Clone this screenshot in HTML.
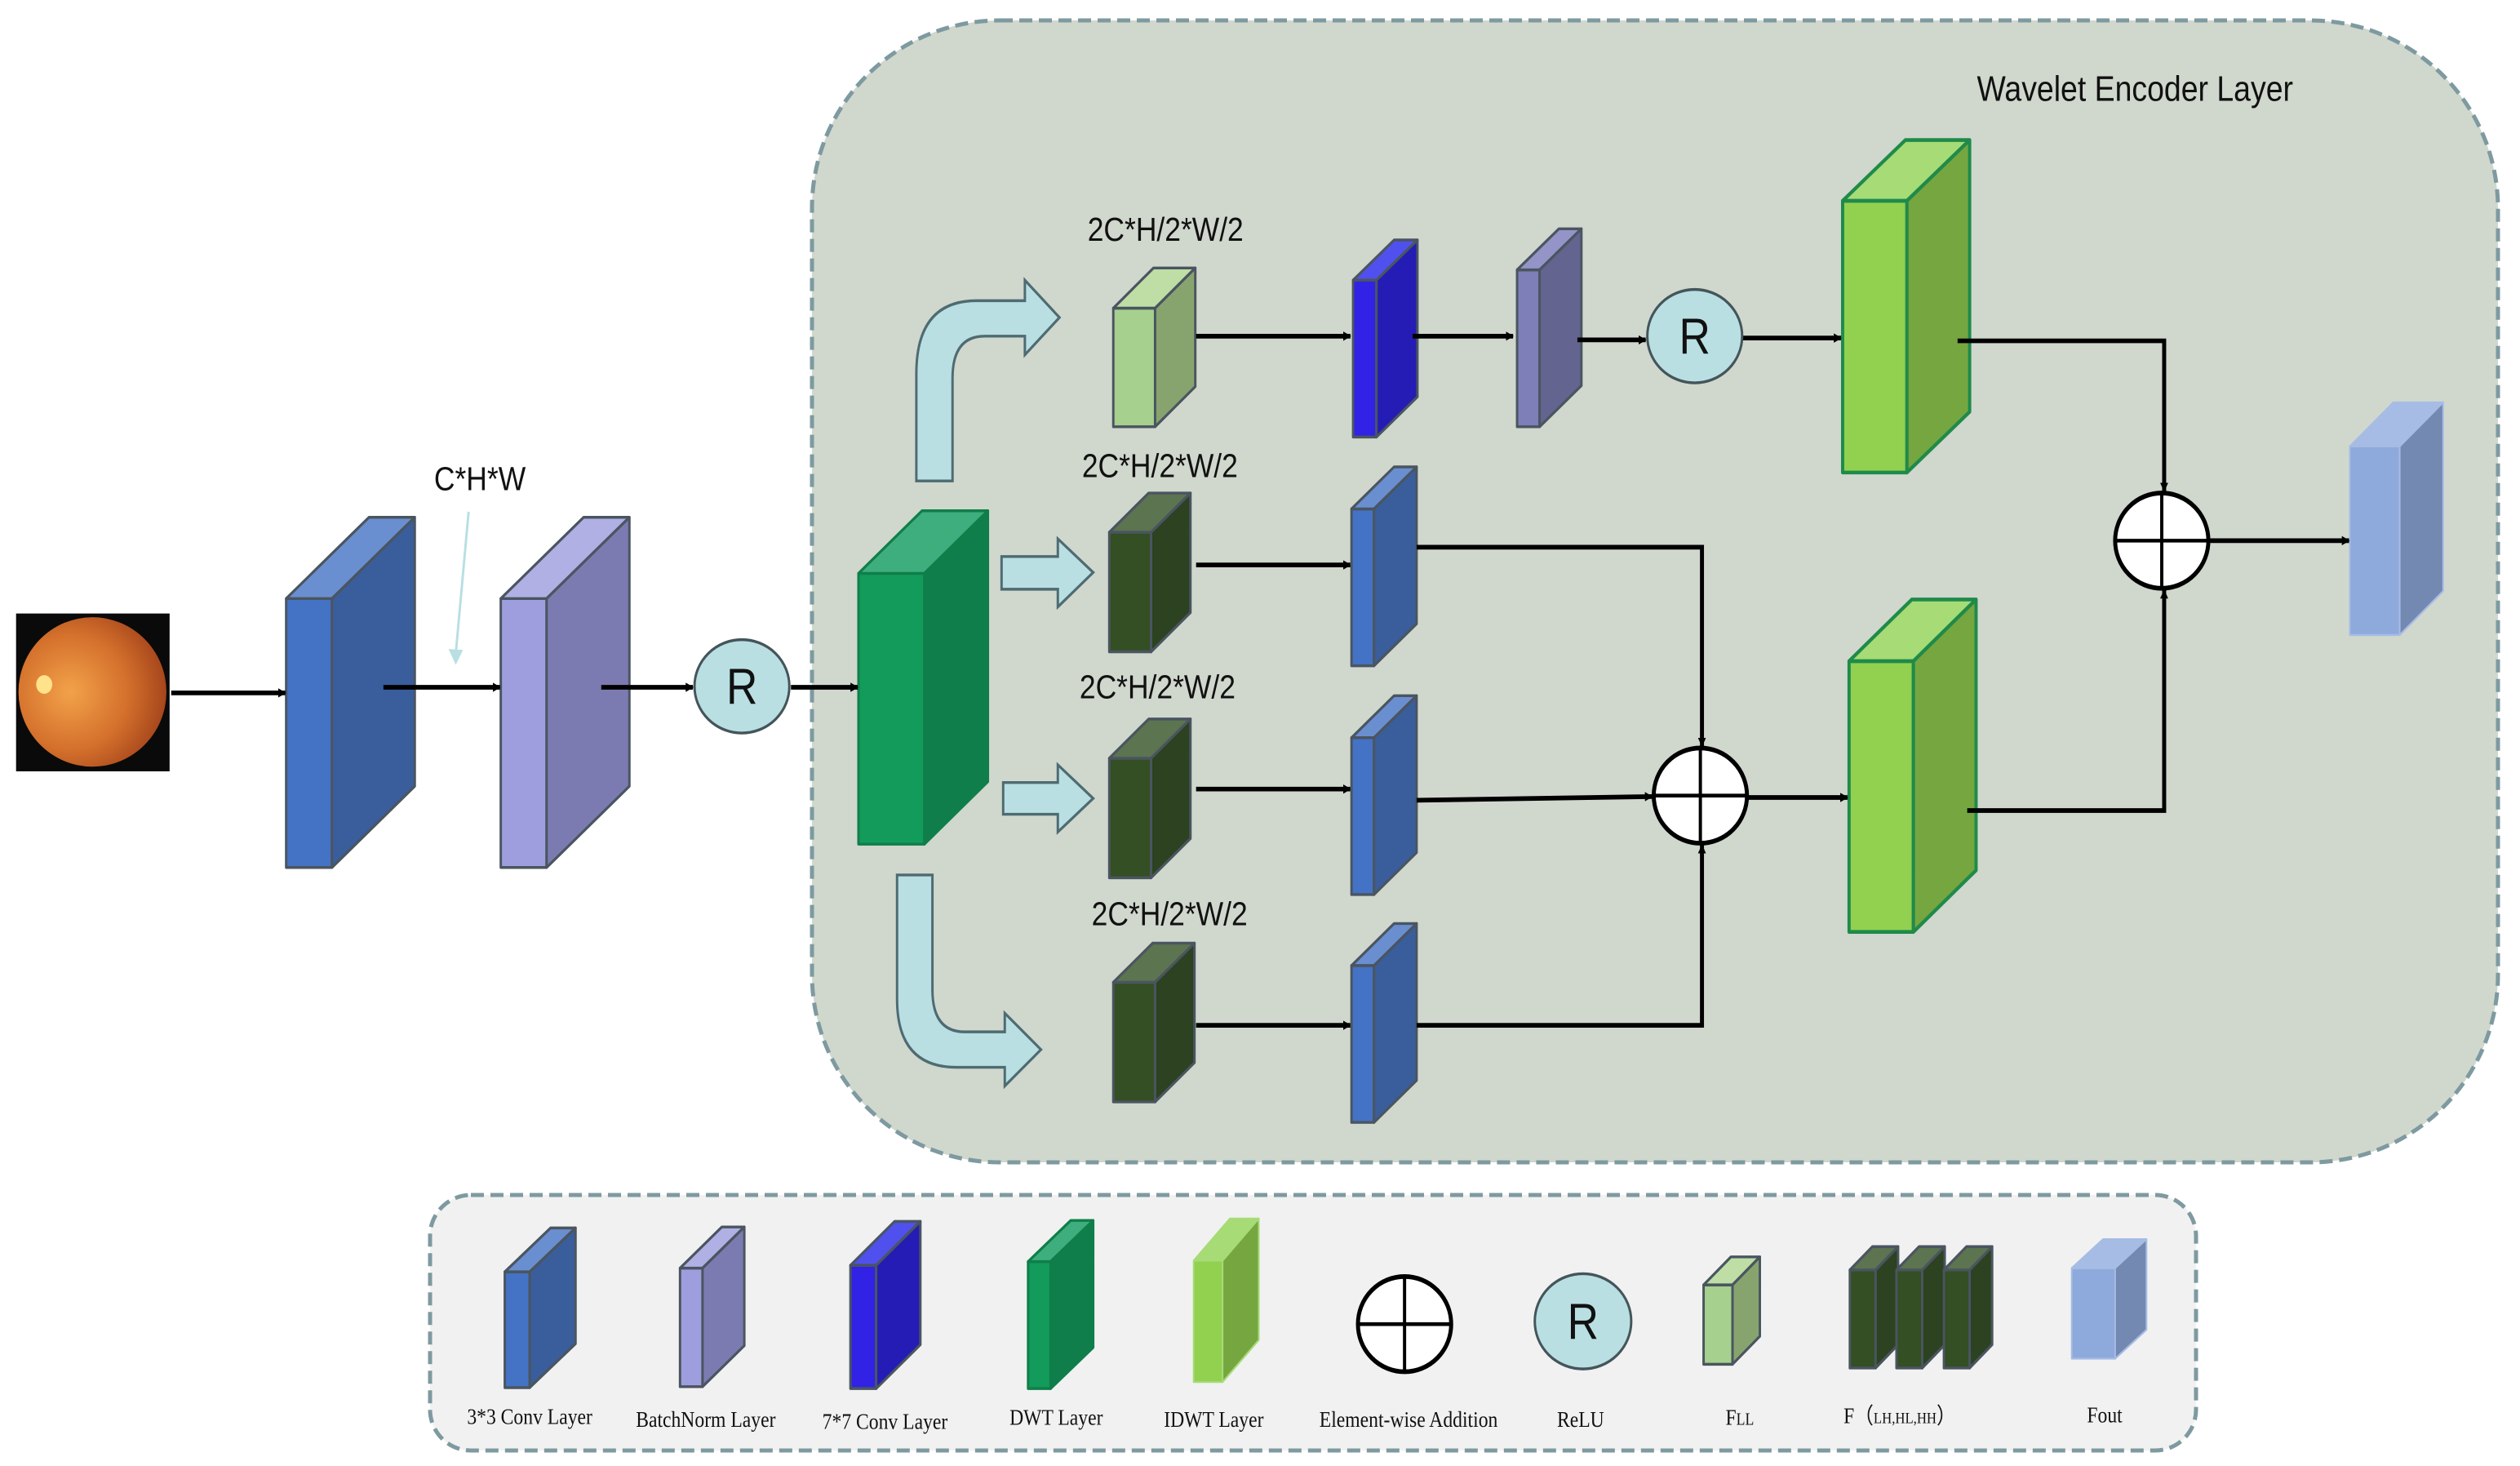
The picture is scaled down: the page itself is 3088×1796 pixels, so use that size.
<!DOCTYPE html>
<html><head><meta charset="utf-8">
<style>
html,body{margin:0;padding:0;background:#fff;}
svg{display:block;}
.sans{font-family:"Liberation Sans",sans-serif;}
.serif{font-family:"Liberation Serif",serif;}
</style></head>
<body>
<svg id="s" width="3088" height="1796" viewBox="0 0 3088 1796" xmlns="http://www.w3.org/2000/svg">
<defs>
<marker id="ah" markerWidth="10" markerHeight="10" refX="9" refY="5" orient="auto" markerUnits="userSpaceOnUse" viewBox="0 0 10 10">
<path d="M0,0 L10,5 L0,10 z" fill="#000"/>
</marker>
<radialGradient id="eye" cx="0.35" cy="0.5" r="0.65">
<stop offset="0" stop-color="#f2a24a"/><stop offset="0.6" stop-color="#d4702c"/><stop offset="1" stop-color="#a6461c"/>
</radialGradient>
</defs>

<!-- containers in true coords -->
<rect x="995" y="25" width="2066" height="1399" rx="230" ry="230" fill="#D0D7CD" stroke="#7E9AA0" stroke-width="5" stroke-dasharray="16,8"/>
<rect x="527" y="1464" width="2164" height="313" rx="50" ry="50" fill="#F1F1F1" stroke="#7E9AA0" stroke-width="5" stroke-dasharray="16,8"/>

<!-- LEFT GROUP -->
<g id="L" transform="matrix(0.985,0,0,1.144,0,0)">
<rect x="20" y="657" width="191" height="169" fill="#0a0a0a"/>
<ellipse cx="115" cy="741" rx="92" ry="80" fill="url(#eye)"/>
<circle cx="55" cy="733" r="10" fill="#ffe28a"/>
<g id="Lb"></g>
<g stroke="#000" stroke-width="5" fill="none">
<line x1="213" y1="742" x2="355" y2="742" marker-end="url(#ah)"/>
<line x1="477" y1="736" x2="622" y2="736" marker-end="url(#ah)"/>
<line x1="748" y1="736" x2="862" y2="736" marker-end="url(#ah)"/>
<line x1="984" y1="736" x2="1067" y2="736" marker-end="url(#ah)"/>
<line x1="1488" y1="360" x2="1680" y2="360" marker-end="url(#ah)"/>
<line x1="1488" y1="605" x2="1680" y2="605" marker-end="url(#ah)"/>
<line x1="1488" y1="845" x2="1680" y2="845" marker-end="url(#ah)"/>
<line x1="1488" y1="1098" x2="1680" y2="1098" marker-end="url(#ah)"/>
</g>
<text x="597" y="525" class="sans" font-size="36" text-anchor="middle" fill="#111">C*H*W</text>
<line x1="583" y1="548" x2="567" y2="700" stroke="#B9DFE3" stroke-width="3"/>
<path d="M558,695 L567,712 L576,696 z" fill="#B9DFE3"/>
<g fill="#B9DFE3" stroke="#4E6B72" stroke-width="3">
<path d="M1140,515 L1140,400 Q1140,322 1215,322 L1275,322 L1275,300 L1318,340 L1275,380 L1275,360 L1225,360 Q1185,360 1185,405 L1185,515 Z"/>
<path d="M1246,596 L1316,596 L1316,577 L1360,613 L1316,650 L1316,631 L1246,631 Z"/>
<path d="M1248,838 L1316,838 L1316,819 L1360,855 L1316,891 L1316,872 L1248,872 Z"/>
<path d="M1116,937 L1160,937 L1160,1060 Q1160,1105 1200,1105 L1250,1105 L1250,1085 L1295,1124 L1250,1163 L1250,1143 L1190,1143 Q1116,1143 1116,1070 Z"/>
</g>
<g class="sans" font-size="36" text-anchor="middle" fill="#111">
<text x="1450" y="258">2C*H/2*W/2</text>
<text x="1443" y="511">2C*H/2*W/2</text>
<text x="1440" y="748">2C*H/2*W/2</text>
<text x="1455" y="991">2C*H/2*W/2</text>
</g>
<ellipse cx="923" cy="735" rx="59" ry="50" stroke="#44555a" stroke-width="3" fill="#B9DFE3"/>
<text x="923" y="754" class="sans" font-size="54" text-anchor="middle" fill="#111">R</text>
<g class="serif" font-size="24" text-anchor="middle" fill="#111">
<text x="659" y="1525">3*3 Conv Layer</text>
<text x="878" y="1528">BatchNorm Layer</text>
<text x="1101" y="1530">7*7 Conv Layer</text>
<text x="1314" y="1526">DWT Layer</text>
<text x="1510" y="1528">IDWT Layer</text>
</g>
</g>

<!-- RIGHT GROUP -->
<g id="R" transform="matrix(0.985,0,0,1.144,23,0)">
<text x="2436" y="108" class="sans" font-size="38" fill="#111">Wavelet Encoder Layer</text>
<g id="Rb"></g>
<g stroke="#000" stroke-width="5" fill="none">
<line x1="1734" y1="360" x2="1859" y2="360" marker-end="url(#ah)"/>
<line x1="1939" y1="364" x2="2024" y2="364" marker-end="url(#ah)"/>
<line x1="2145" y1="362" x2="2267" y2="362" marker-end="url(#ah)"/>
<polyline points="2412,365 2669,365 2669,526" marker-end="url(#ah)"/>
<line x1="2725" y1="579" x2="2899" y2="579" marker-end="url(#ah)"/>
<polyline points="1739,586 2094,586 2094,799" marker-end="url(#ah)"/>
<line x1="1739" y1="857" x2="2032" y2="853" marker-end="url(#ah)"/>
<polyline points="1739,1098 2094,1098 2094,905" marker-end="url(#ah)"/>
<line x1="2151" y1="854" x2="2275" y2="854" marker-end="url(#ah)"/>
<polyline points="2424,868 2669,868 2669,632" marker-end="url(#ah)"/>
</g>
<g stroke="#44555a" stroke-width="3" fill="#B9DFE3">
<ellipse cx="2085" cy="360" rx="59" ry="50"/>
<ellipse cx="1946" cy="1415" rx="60" ry="51"/>
</g>
<g class="sans" font-size="54" text-anchor="middle" fill="#111">
<text x="2085" y="379">R</text>
<text x="1946" y="1434">R</text>
</g>
<g id="plus"></g>
<g class="serif" font-size="24" text-anchor="middle" fill="#111">
<text x="1729" y="1528">Element-wise Addition</text>
<text x="1943" y="1528">ReLU</text>
<text x="2141" y="1526">F<tspan font-size="18">LL</tspan></text>
<text x="2340" y="1524">F（<tspan font-size="17">LH,HL,HH</tspan>）</text>
<text x="2595" y="1523">Fout</text>
</g>
</g>

<script>
var NS="http://www.w3.org/2000/svg";
var LB=document.getElementById("Lb"),RB=document.getElementById("Rb");
function poly(g,pts,fill,st,sw){var p=document.createElementNS(NS,"polygon");p.setAttribute("points",pts.map(function(a){return a.join(",")}).join(" "));p.setAttribute("fill",fill);if(st){p.setAttribute("stroke",st);p.setAttribute("stroke-width",sw||3);p.setAttribute("stroke-linejoin","round");}g.appendChild(p);}
function box(g,x,y,w,h,dx,dy,c,st,sw){
 poly(g,[[x,y],[x+w,y],[x+w,y+h],[x,y+h]],c[0],st,sw);
 poly(g,[[x,y],[x+dx,y-dy],[x+w+dx,y-dy],[x+w,y]],c[2],st,sw);
 poly(g,[[x+w,y],[x+w+dx,y-dy],[x+w+dx,y+h-dy],[x+w,y+h]],c[1],st,sw);
}
var CONV=["#4472C4","#3A5D9C","#6A8FD0"],BN=["#9E9EDE","#7C7BB1","#B0B0E5"],
BN2=["#7E7EB8","#646490","#9494C8"],
DWT=["#139B5B","#0F7E4A","#3FAE7E"],LL=["#A6D08E","#87A46E","#BEDEA5"],
DK=["#344F23","#2C4220","#5C7450"],C7=["#3122E6","#241CB4","#5050EE"],
ID=["#92D050","#75A640","#A6DB76"],FO=["#8EA9DB","#7389B2","#A6BCE4"];
var S="#4a5560";
box(LB,356,641,57,288,103,87,CONV,S);
box(LB,623,641,57,288,103,87,BN,S);
box(LB,1068,614,82,290,79,67,DWT,"#0F7E4A");
box(LB,1385,330,52,127,50,43,LL,S);
box(LB,1380,570,52,128,49,42,DK,S);
box(LB,1380,812,52,128,49,42,DK,S);
box(LB,1385,1052,52,128,49,42,DK,S);
box(RB,1660,300,29,168,51,43,C7,S);
box(RB,1864,289,28,168,52,44,BN2,S);
box(RB,2269,215,80,291,78,65,ID,"#1F8A4A",4);
box(RB,1658,545,28,168,53,45,CONV,S);
box(RB,1658,790,28,168,53,45,CONV,S);
box(RB,1658,1034,28,168,53,45,CONV,S);
box(RB,2277,708,80,290,78,66,ID,"#1F8A4A",4);
box(RB,2900,478,62,202,54,47,FO,"#A6BCE4",2);
box(LB,628,1362,31,124,57,47,CONV,S);
box(LB,846,1358,28,127,52,44,BN,S);
box(LB,1058,1355,32,132,55,47,C7,S);
box(LB,1279,1351,28,136,53,44,DWT,"#0F7E4A");
box(LB,1485,1350,36,130,45,45,ID,"#A6DB76",2);
box(RB,2096,1376,36,85,34,30,LL,S);
box(RB,2278,1360,32,105,28,25,DK,S);
box(RB,2336,1360,32,105,28,25,DK,S);
box(RB,2395,1360,32,105,28,25,DK,S);
box(RB,2554,1358,54,97,39,31,FO,"#A6BCE4",2);
var pg=document.getElementById("plus");
[[2666,579],[2092,852],[1724,1418]].forEach(function(c){
 var e=document.createElementNS(NS,"ellipse");e.setAttribute("cx",c[0]);e.setAttribute("cy",c[1]);e.setAttribute("rx",58);e.setAttribute("ry",51);
 e.setAttribute("fill","#fff");e.setAttribute("stroke","#000");e.setAttribute("stroke-width",5);pg.appendChild(e);
 var p=document.createElementNS(NS,"path");p.setAttribute("d","M"+(c[0]-58)+","+c[1]+"H"+(c[0]+58)+"M"+c[0]+","+(c[1]-51)+"V"+(c[1]+51));
 p.setAttribute("stroke","#000");p.setAttribute("stroke-width",4);pg.appendChild(p);
});
</script>
</svg>
</body></html>
